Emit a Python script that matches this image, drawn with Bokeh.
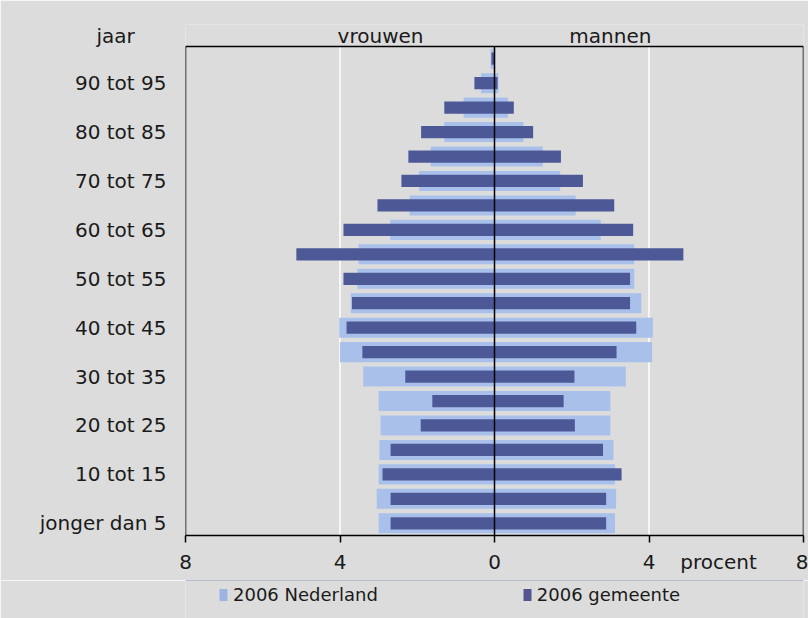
from bokeh.plotting import figure
from bokeh.layouts import column
from bokeh.models import (FixedTicker, Legend, LegendItem, ColumnDataSource, Range1d)
from bokeh.embed import file_html
from bokeh.resources import INLINE
from bokeh.core.properties import value

# Age groups (bottom to top)
age_groups = ["jonger dan 5", "5 tot 10", "10 tot 15", "15 tot 20", "20 tot 25", "25 tot 30",
              "30 tot 35", "35 tot 40", "40 tot 45", "45 tot 50", "50 tot 55", "55 tot 60",
              "60 tot 65", "65 tot 70", "70 tot 75", "75 tot 80", "80 tot 85", "85 tot 90",
              "90 tot 95", "95 en ouder"]

# Percentages
nl_vrouwen = [3.00, 3.05, 3.00, 2.98, 2.95, 3.00, 3.40, 4.00, 4.02, 3.72, 3.55, 3.52,
              2.70, 2.20, 1.95, 1.65, 1.30, 0.80, 0.35, 0.10]
nl_mannen = [3.12, 3.15, 3.12, 3.08, 3.00, 3.00, 3.40, 4.08, 4.10, 3.80, 3.62, 3.62,
             2.75, 2.10, 1.70, 1.25, 0.75, 0.35, 0.10, 0.02]
gem_vrouwen = [2.69, 2.69, 2.90, 2.69, 1.91, 1.61, 2.31, 3.42, 3.83, 3.69, 3.91, 5.13,
               3.91, 3.03, 2.41, 2.23, 1.90, 1.30, 0.52, 0.08]
gem_mannen = [2.89, 2.89, 3.29, 2.81, 2.08, 1.79, 2.07, 3.16, 3.67, 3.51, 3.51, 4.89,
              3.59, 3.10, 2.29, 1.72, 1.00, 0.50, 0.08, 0.00]

series_names = ["2006 Nederland", "2006 gemeente"]
x_ticks = [-8, -4, 0, 4, 8]
x_tick_labels = ["8", "4", "0", "4", "8"]
x_unit_label = "procent"
x_unit_pos = 5.8
side_labels = ["vrouwen", "mannen"]
side_label_pos = [-2.95, 3.0]
y_title = "jaar"

FONT = "DejaVu Sans"
BG = "#dcdcdc"
LIGHT = "#a9c1ea"
DARK = "#4d5897"
TXT = "#1a1a1a"

n = len(age_groups)
ypos = list(range(n))
y_lo, y_hi = -0.5, n - 0.5          # box of the chart
x_lo, x_hi = x_ticks[0], x_ticks[-1]
head_y = y_hi + 0.45                 # row for the header texts

src = ColumnDataSource(dict(
    y=ypos,
    nl_v=[-v for v in nl_vrouwen], nl_m=nl_mannen,
    g_v=[-v for v in gem_vrouwen], g_m=gem_mannen,
))

p = figure(frame_width=618, frame_height=511, output_backend="svg", toolbar_location=None,
           x_range=Range1d(x_lo, x_hi), y_range=Range1d(y_lo, y_hi + 0.9),
           min_border_left=185, min_border_right=5, min_border_top=24, min_border_bottom=45)
p.background_fill_color = BG
p.border_fill_color = BG
p.outline_line_color = None
p.ygrid.visible = False
p.xgrid.visible = False

# white grid lines at +-4 inside the box
grid_x = [t for t in x_ticks if t not in (x_lo, 0, x_hi)]
p.segment(x0=grid_x, x1=grid_x, y0=[y_lo] * len(grid_x), y1=[y_hi] * len(grid_x),
          line_color="white", line_width=1.5)

p.hbar(y="y", left="nl_v", right=0, height=0.82, source=src, fill_color=LIGHT, line_color=None)
p.hbar(y="y", left=0, right="nl_m", height=0.82, source=src, fill_color=LIGHT, line_color=None)
p.hbar(y="y", left="g_v", right=0, height=0.5, source=src, fill_color=DARK, line_color=None)
p.hbar(y="y", left=0, right="g_m", height=0.5, source=src, fill_color=DARK, line_color=None)

# box: left, top, right and the zero line
p.segment(x0=[x_lo, x_lo, x_hi, 0], x1=[x_lo, x_hi, x_hi, 0],
          y0=[y_lo, y_hi, y_lo, y_lo], y1=[y_hi, y_hi, y_hi, y_hi],
          line_color="black", line_width=1.5)

# header texts
p.text(x=side_label_pos, y=[head_y] * 2, text=side_labels, text_align="center",
       text_baseline="middle", text_font=value(FONT), text_font_size="20px", text_color=TXT)

# x axis
xa = p.xaxis[0]
xa.ticker = FixedTicker(ticks=x_ticks[:-1] + [x_unit_pos, x_ticks[-1]], minor_ticks=x_ticks)
lab = {t: l for t, l in zip(x_ticks, x_tick_labels)}
lab[x_unit_pos] = x_unit_label
xa.major_label_overrides = lab
xa.major_tick_out = 0
xa.major_tick_in = 0
xa.minor_tick_out = 7
xa.minor_tick_in = 0
xa.minor_tick_line_color = "black"
xa.minor_tick_line_width = 1.5
xa.major_label_standoff = 7
xa.axis_line_color = "black"
xa.axis_line_width = 1.5
xa.major_label_text_font = FONT
xa.major_label_text_font_size = "20px"
xa.major_label_text_color = TXT

# y axis
ya = p.yaxis[0]
ticks_y = ypos[::2] + [head_y]
ya.ticker = FixedTicker(ticks=ticks_y)
ov = {i: age_groups[i] for i in ypos[::2]}
ov[head_y] = y_title + "\u00a0" * 5
ya.major_label_overrides = ov
ya.major_tick_line_color = None
ya.minor_tick_line_color = None
ya.major_label_standoff = 13
ya.axis_line_color = None
ya.major_label_text_font = FONT
ya.major_label_text_font_size = "20px"
ya.major_label_text_color = TXT

# legend strip under the chart (its frame is aligned with the chart's frame)
leg = figure(width=808, height=40, output_backend="svg", toolbar_location=None,
             x_range=Range1d(0, 1), y_range=Range1d(0, 1),
             min_border_left=0, min_border_right=0, min_border_top=0, min_border_bottom=0)
leg.background_fill_color = BG
leg.border_fill_color = BG
leg.outline_line_color = None
leg.axis.visible = False
leg.grid.visible = False
# legend keys: bars kept outside the visible strip
lr1 = leg.hbar(y=[5], left=[0], right=[1], height=0.5, fill_color="#9db4e2", line_color=None)
lr2 = leg.hbar(y=[5], left=[0], right=[1], height=0.5, fill_color="#55548f", line_color=None)
legend = Legend(items=[LegendItem(label=series_names[0], renderers=[lr1]),
                       LegendItem(label=series_names[1], renderers=[lr2])],
                orientation="horizontal", location=(33, 15), spacing=144,
                padding=0, margin=0, glyph_width=10, glyph_height=15, label_standoff=5,
                label_text_font=FONT, label_text_font_size="18px", label_text_color=TXT,
                background_fill_alpha=0, border_line_color=None)
leg.add_layout(legend, "center")

layout = column(p, leg, spacing=0)
open("out.html", "w").write(file_html(layout, INLINE))
